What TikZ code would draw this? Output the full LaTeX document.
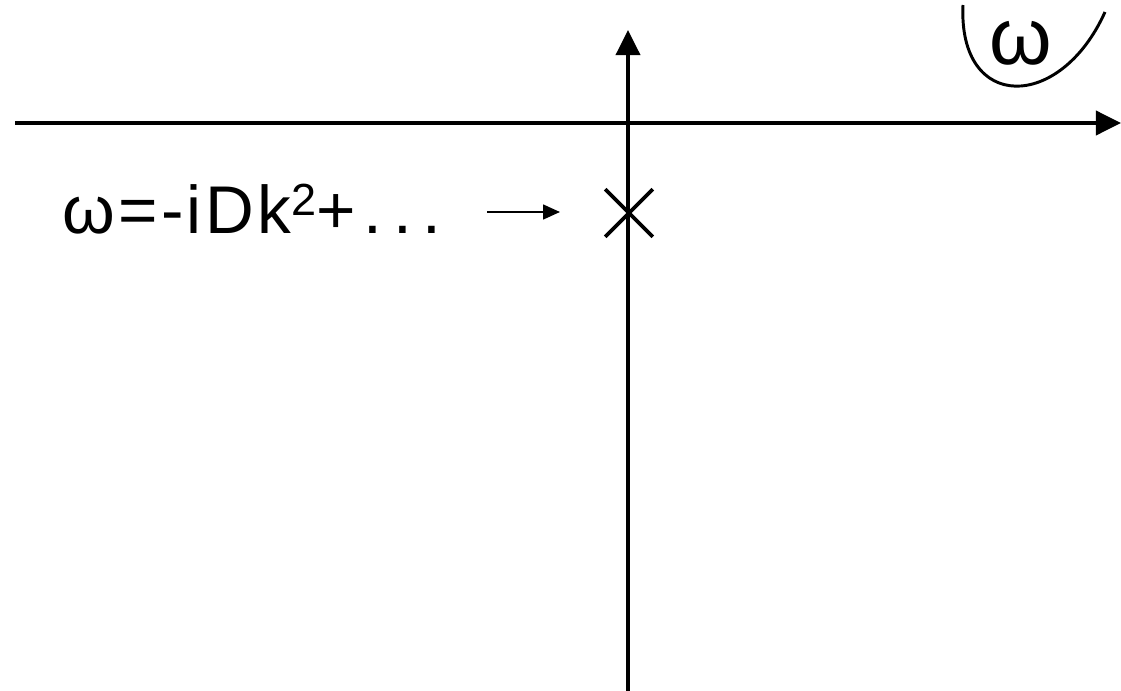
\documentclass[tikz,border=0pt]{standalone}
\usepackage{fontspec}
\setmainfont{Liberation Sans}
\newfontfamily\spacedsans[LetterSpace=5]{Liberation Sans}
\usetikzlibrary{arrows.meta, positioning, shapes.misc}

\begin{document}
\begin{tikzpicture}[x=0.025cm, y=-0.025cm,
    axis/.style={line width=2.9pt, -{Triangle[length=17.8pt, width=17pt]}},
    pole/.style={draw, cross out, line width=2.6pt, minimum size=1.1cm, inner sep=0pt},
    pointer/.style={line width=1.4pt, -{Triangle[length=12pt, width=10.5pt]}},
    label/.style={font=\spacedsans\fontsize{48}{52}\selectfont, inner sep=0pt}
  ]
  \useasboundingbox (0,0) rectangle (1121,691);

  % axes of the complex omega plane
  \coordinate (xl) at (15,123);
  \coordinate (xr) at (1121,123);
  \coordinate (yb) at (628,691);
  \coordinate (yt) at (628,30);
  \draw[axis] (xl) -- (xr);
  \draw[axis] (yb) -- (yt);

  % diffusion pole
  \node[pole] (diff) at (629,213) {};
  \node[label, anchor=base west] (disp) at (62,233)
    {ω=-iDk\raisebox{12.8pt}{\fontsize{32}{34}\selectfont 2}+\hspace{0.12em}.\hspace{0.16em}.\hspace{0.16em}.};
  \coordinate (tail) at (487,212);
  \coordinate (tip) at (560,212);
  \draw[pointer] (tail) -- (tip);

  % plane label
  \node[label, font=\fontsize{57}{60}\selectfont, anchor=base, text height=0.5em] (wplane) at (1021,64) {ω};
  \draw[line width=2.1pt] (963,5) .. controls (958,112) and (1060,112) .. (1105,12);
\end{tikzpicture}
\end{document}
